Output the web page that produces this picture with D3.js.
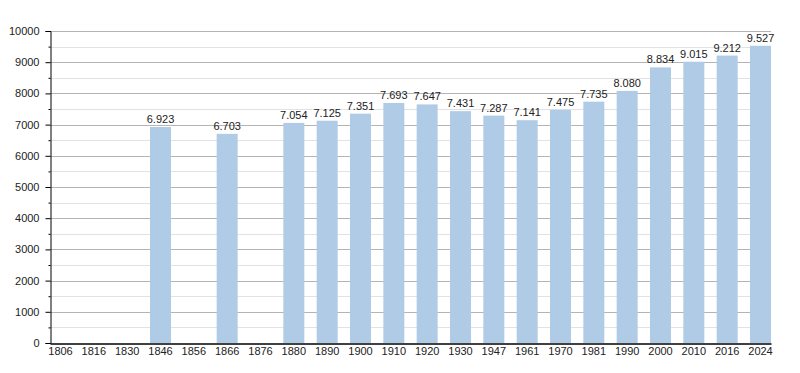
<!DOCTYPE html>
<html>
<head>
<meta charset="utf-8">
<script src="https://cdn.jsdelivr.net/npm/d3@7"></script>
<style>
  body { margin: 0; background: #fff; }
  text { font-family: "Liberation Sans", Arial, sans-serif; fill: #222; }
</style>
</head>
<body>
<div class="chart"></div>
<script>
// DATA ------------------------------------**
const years = ['1806','1816','1830','1846','1856','1866','1876','1880','1890','1900','1910',
    '1920','1930','1947','1961','1970','1981','1990','2000','2010','2016','2024'];
const population = [null, null, null, 6923, null, 6703, null, 7054, 7125, 7351, 7693,
    7647, 7431, 7287, 7141, 7475, 7735, 8080, 8834, 9015, 9212, 9527];
const yTicks = [0, 1000, 2000, 3000, 4000, 5000, 6000, 7000, 8000, 9000, 10000];

const data = years.map((y, i) => ({year: y, value: population[i]}));

// CHART INIT ------------------------------**
const width = 800;
const height = 373;
const plotLeft = 50, plotRight = 771, plotTop = 31, plotBottom = 343;

const svg = d3.select('.chart').append('svg')
    .attr('width', width)
    .attr('height', height);

let xScale = d3.scaleBand()
    .domain(years)
    .range([plotLeft, plotRight])
    .paddingInner(0.37)
    .paddingOuter(0);

let yScale = d3.scaleLinear()
    .domain([0, 10000])
    .range([plotBottom, plotTop]);

// gridlines: minor every 500, major every 1000
const minor = d3.range(500, 10000, 1000);
svg.append('g').selectAll('line.minor')
    .data(minor)
    .enter().append('line')
    .attr('x1', plotLeft).attr('x2', plotRight)
    .attr('y1', d => Math.round(yScale(d)) + 0.5)
    .attr('y2', d => Math.round(yScale(d)) + 0.5)
    .attr('stroke', '#e2e2e2');

svg.append('g').selectAll('line.major')
    .data(yTicks.filter(d => d > 0))
    .enter().append('line')
    .attr('x1', plotLeft).attr('x2', plotRight)
    .attr('y1', d => Math.round(yScale(d)) + 0.5)
    .attr('y2', d => Math.round(yScale(d)) + 0.5)
    .attr('stroke', '#b4b4b4');

// bars
svg.selectAll('.bar')
    .data(data.filter(d => d.value != null))
    .enter().append('rect')
    .attr('class', 'bar')
    .attr('x', d => xScale(d.year))
    .attr('y', d => yScale(d.value))
    .attr('width', xScale.bandwidth())
    .attr('height', d => plotBottom - yScale(d.value))
    .attr('fill', '#b0cbe5');

// value labels
const fmt = v => d3.format(',')(v).replace(/,/g, '.');
svg.selectAll('.label')
    .data(data.filter(d => d.value != null))
    .enter().append('text')
    .attr('class', 'label')
    .attr('x', d => xScale(d.year) + xScale.bandwidth() / 2)
    .attr('y', d => yScale(d.value) - 4)
    .attr('text-anchor', 'middle')
    .attr('font-size', 11)
    .text(d => fmt(d.value));

// y axis
let yAxis = d3.axisLeft(yScale)
    .tickValues(yTicks)
    .tickFormat(d3.format('d'))
    .tickSize(5)
    .tickPadding(6);

let yAxisGroup = svg.append('g')
    .attr('class', 'axis y-axis')
    .attr('transform', 'translate(' + (plotLeft + 0.5) + ',0)')
    .call(yAxis);
yAxisGroup.select('.domain').attr('stroke', '#000');
yAxisGroup.selectAll('.tick line').attr('stroke', '#000');
yAxisGroup.selectAll('text').attr('font-size', 11).attr('fill', '#222')
    .attr('font-family', '"Liberation Sans", Arial, sans-serif');

let yMinorAxis = d3.axisLeft(yScale)
    .tickValues(minor)
    .tickFormat('')
    .tickSize(2)
    .tickSizeOuter(0);
let yMinorGroup = svg.append('g')
    .attr('transform', 'translate(' + (plotLeft + 0.5) + ',0)')
    .call(yMinorAxis);
yMinorGroup.select('.domain').remove();
yMinorGroup.selectAll('.tick line').attr('stroke', '#000');

// x axis
let xAxis = d3.axisBottom(xScale)
    .tickSize(0)
    .tickPadding(4);

let xAxisGroup = svg.append('g')
    .attr('class', 'axis x-axis')
    .attr('transform', 'translate(0,' + (plotBottom + 0.5) + ')')
    .call(xAxis);
xAxisGroup.select('.domain').attr('stroke', '#000').attr('stroke-width', 1.5);
xAxisGroup.selectAll('text').attr('font-size', 11).attr('fill', '#222')
    .attr('font-family', '"Liberation Sans", Arial, sans-serif');
</script>
</body>
</html>
